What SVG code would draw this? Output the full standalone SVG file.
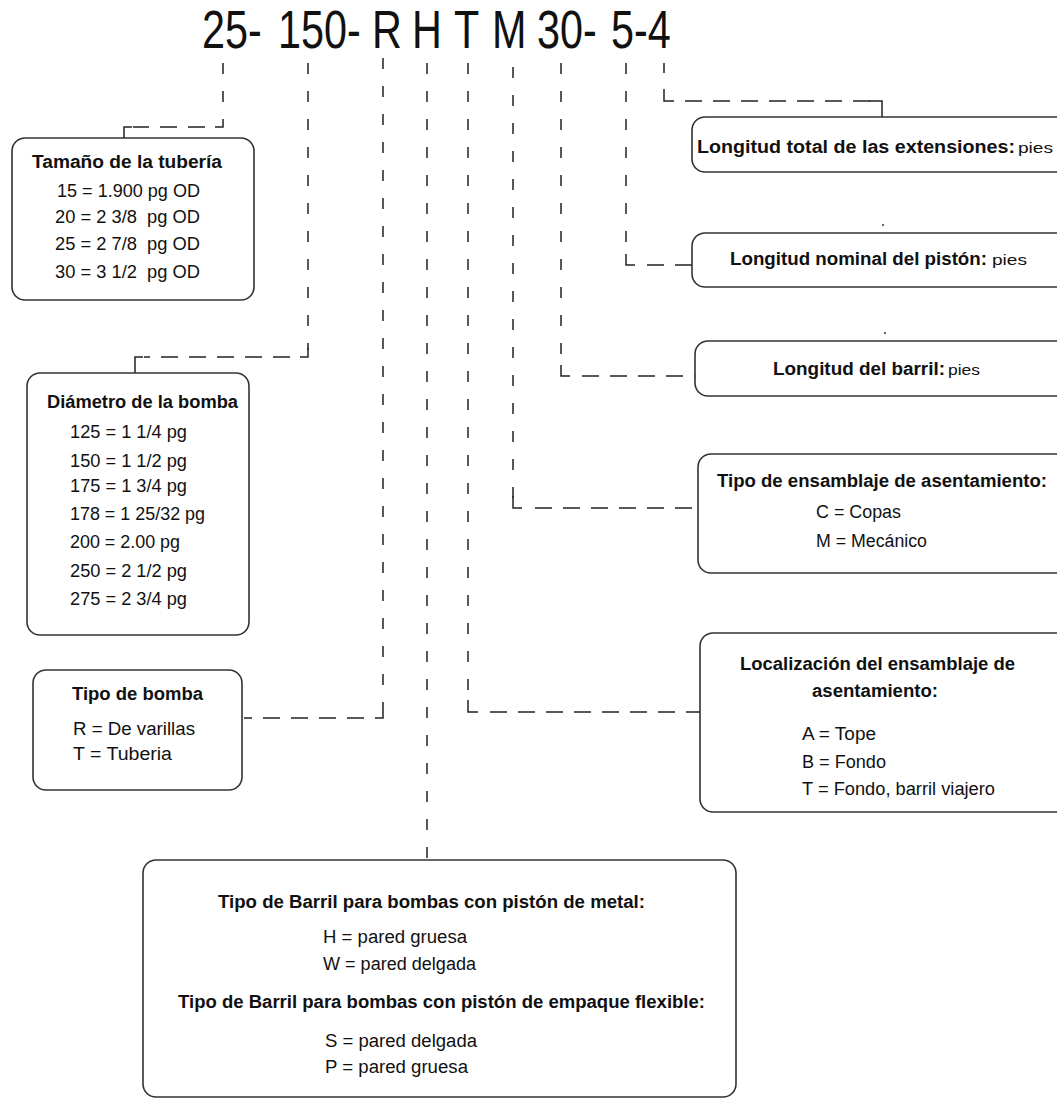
<svg xmlns="http://www.w3.org/2000/svg" width="1057" height="1099" viewBox="0 0 1057 1099">
  <style>
    text { font-family: "Liberation Sans Narrow", "Arial Narrow", "Liberation Sans", Arial, sans-serif; fill: #111; white-space: pre; }
    .code { font-size: 53px; }
    .h { font-size: 18px; font-weight: bold; }
    .t { font-size: 18px; }
    .u { font-size: 15px; }
    .box { fill: #fff; stroke: #333; stroke-width: 1.6; }
    .v { stroke: #222; stroke-width: 1.5; fill: none; stroke-dasharray: 11 17; }
    .hz { stroke: #222; stroke-width: 1.5; fill: none; stroke-dasharray: 17 11; }
    .c { stroke: #222; stroke-width: 1.5; fill: none; }
  </style>
  <rect width="1057" height="1099" fill="#fff"/>

  <!-- pump designation code, drawn horizontally condensed -->
  <g id="code" transform="scale(0.78 1)">
    <text class="code" x="259" y="48">25-</text>
    <text class="code" x="356.4" y="48">150-</text>
    <text class="code" x="476.9" y="48">R</text>
    <text class="code" x="528.2" y="48">H</text>
    <text class="code" x="582.1" y="48">T</text>
    <text class="code" x="630.8" y="48">M</text>
    <text class="code" x="688.5" y="48">30-</text>
    <text class="code" x="783.3" y="48">5-4</text>
  </g>

  <!-- dashed leaders from each code field to its box -->
  <g id="connectors">
    <g id="c-tuberia">
      <line class="v" x1="223" y1="63" x2="223" y2="120"/>
      <path class="c" d="M223,120 V127 H215"/>
      <line class="hz" x1="205" y1="127" x2="133" y2="127"/>
      <path class="c" d="M132,127 H124 V138"/>
    </g>
    <g id="c-diametro">
      <line class="v" x1="308" y1="63" x2="308" y2="350"/>
      <path class="c" d="M308,348 V357 H300"/>
      <line class="hz" x1="290" y1="357" x2="144" y2="357"/>
      <path class="c" d="M143,357 H135 V373"/>
    </g>
    <g id="c-bomba">
      <line class="v" x1="383" y1="58" x2="383" y2="708"/>
      <path class="c" d="M383,708 V718 H375"/>
      <line class="hz" x1="364" y1="718" x2="244" y2="718"/>
    </g>
    <g id="c-barril-tipo">
      <line class="v" x1="427" y1="63" x2="427" y2="860"/>
    </g>
    <g id="c-localizacion">
      <line class="v" x1="468" y1="63" x2="468" y2="702"/>
      <path class="c" d="M468,700 V712 H478"/>
      <line class="hz" x1="490" y1="712" x2="700" y2="712"/>
    </g>
    <g id="c-ensamblaje">
      <line class="v" x1="513" y1="67" x2="513" y2="498"/>
      <path class="c" d="M513,496 V508 H522"/>
      <line class="hz" x1="535" y1="508" x2="698" y2="508"/>
    </g>
    <g id="c-barril-long">
      <line class="v" x1="561" y1="63" x2="561" y2="367"/>
      <path class="c" d="M561,365 V376 H570"/>
      <line class="hz" x1="582" y1="376" x2="695" y2="376"/>
    </g>
    <g id="c-piston">
      <line class="v" x1="626" y1="63" x2="626" y2="256"/>
      <path class="c" d="M626,254 V265 H635"/>
      <line class="hz" x1="647" y1="265" x2="692" y2="265"/>
    </g>
    <g id="c-extensiones">
      <path class="c" d="M664,63 V73"/>
      <path class="c" d="M664,89 V101 H674"/>
      <line class="hz" x1="685" y1="101" x2="872" y2="101"/>
      <path class="c" d="M869,101 H882 V117"/>
    </g>
    <circle cx="883" cy="225" r="1" fill="#333"/>
    <circle cx="885" cy="333" r="1" fill="#333"/>
  </g>

  <!-- left column -->
  <g id="tamano-tuberia">
    <rect class="box" x="12" y="138" width="242" height="162" rx="13"/>
    <text class="h" x="32" y="168" textLength="190" lengthAdjust="spacingAndGlyphs">Tamaño de la tubería</text>
    <text class="t" x="57" y="197" textLength="143" lengthAdjust="spacingAndGlyphs">15 = 1.900 pg OD</text>
    <text class="t" x="55" y="223" textLength="145" lengthAdjust="spacingAndGlyphs">20 = 2 3/8  pg OD</text>
    <text class="t" x="55" y="250" textLength="145" lengthAdjust="spacingAndGlyphs">25 = 2 7/8  pg OD</text>
    <text class="t" x="55" y="278" textLength="145" lengthAdjust="spacingAndGlyphs">30 = 3 1/2  pg OD</text>
  </g>

  <g id="diametro-bomba">
    <rect class="box" x="27" y="373" width="222" height="262" rx="13"/>
    <text class="h" x="47" y="408" textLength="191" lengthAdjust="spacingAndGlyphs">Diámetro de la bomba</text>
    <text class="t" x="70" y="438" textLength="117" lengthAdjust="spacingAndGlyphs">125 = 1 1/4 pg</text>
    <text class="t" x="70" y="467" textLength="117" lengthAdjust="spacingAndGlyphs">150 = 1 1/2 pg</text>
    <text class="t" x="70" y="492" textLength="117" lengthAdjust="spacingAndGlyphs">175 = 1 3/4 pg</text>
    <text class="t" x="70" y="520" textLength="135" lengthAdjust="spacingAndGlyphs">178 = 1 25/32 pg</text>
    <text class="t" x="70" y="548" textLength="110" lengthAdjust="spacingAndGlyphs">200 = 2.00 pg</text>
    <text class="t" x="70" y="577" textLength="117" lengthAdjust="spacingAndGlyphs">250 = 2 1/2 pg</text>
    <text class="t" x="70" y="605" textLength="117" lengthAdjust="spacingAndGlyphs">275 = 2 3/4 pg</text>
  </g>

  <g id="tipo-bomba">
    <rect class="box" x="33" y="670" width="209" height="120" rx="13"/>
    <text class="h" x="72" y="700" textLength="131" lengthAdjust="spacingAndGlyphs">Tipo de bomba</text>
    <text class="t" x="73" y="735" textLength="122" lengthAdjust="spacingAndGlyphs">R = De varillas</text>
    <text class="t" x="73" y="760" textLength="99" lengthAdjust="spacingAndGlyphs">T = Tuberia</text>
  </g>

  <!-- right column -->
  <g id="longitud-extensiones">
    <rect class="box" x="692" y="117" width="380" height="55" rx="13"/>
    <text class="h" x="697" y="153" textLength="318" lengthAdjust="spacingAndGlyphs">Longitud total de las extensiones:</text>
    <text class="u" x="1018" y="153" textLength="35" lengthAdjust="spacingAndGlyphs">pies</text>
  </g>

  <g id="longitud-piston">
    <rect class="box" x="692" y="233" width="380" height="54" rx="13"/>
    <text class="h" x="730" y="265" textLength="257" lengthAdjust="spacingAndGlyphs">Longitud nominal del pistón:</text>
    <text class="u" x="992" y="265" textLength="35" lengthAdjust="spacingAndGlyphs">pies</text>
  </g>

  <g id="longitud-barril">
    <rect class="box" x="695" y="341" width="377" height="55" rx="13"/>
    <text class="h" x="773" y="375" textLength="172" lengthAdjust="spacingAndGlyphs">Longitud del barril:</text>
    <text class="u" x="948" y="375" textLength="32" lengthAdjust="spacingAndGlyphs">pies</text>
  </g>

  <g id="tipo-ensamblaje">
    <rect class="box" x="698" y="454" width="374" height="119" rx="13"/>
    <text class="h" x="717" y="487" textLength="330" lengthAdjust="spacingAndGlyphs">Tipo de ensamblaje de asentamiento:</text>
    <text class="t" x="816" y="518" textLength="85" lengthAdjust="spacingAndGlyphs">C = Copas</text>
    <text class="t" x="816" y="547" textLength="111" lengthAdjust="spacingAndGlyphs">M = Mecánico</text>
  </g>

  <g id="localizacion-ensamblaje">
    <rect class="box" x="700" y="633" width="372" height="179" rx="13"/>
    <text class="h" x="740" y="670" textLength="275" lengthAdjust="spacingAndGlyphs">Localización del ensamblaje de</text>
    <text class="h" x="812" y="697" textLength="126" lengthAdjust="spacingAndGlyphs">asentamiento:</text>
    <text class="t" x="802" y="740" textLength="74" lengthAdjust="spacingAndGlyphs">A = Tope</text>
    <text class="t" x="802" y="768" textLength="84" lengthAdjust="spacingAndGlyphs">B = Fondo</text>
    <text class="t" x="802" y="795" textLength="193" lengthAdjust="spacingAndGlyphs">T = Fondo, barril viajero</text>
  </g>

  <!-- bottom -->
  <g id="tipo-barril">
    <rect class="box" x="143" y="860" width="593" height="237" rx="13"/>
    <text class="h" x="218" y="908" textLength="427" lengthAdjust="spacingAndGlyphs">Tipo de Barril para bombas con pistón de metal:</text>
    <text class="t" x="323" y="943" textLength="144" lengthAdjust="spacingAndGlyphs">H = pared gruesa</text>
    <text class="t" x="323" y="970" textLength="153" lengthAdjust="spacingAndGlyphs">W = pared delgada</text>
    <text class="h" x="178" y="1008" textLength="527" lengthAdjust="spacingAndGlyphs">Tipo de Barril para bombas con pistón de empaque flexible:</text>
    <text class="t" x="325" y="1047" textLength="152" lengthAdjust="spacingAndGlyphs">S = pared delgada</text>
    <text class="t" x="325" y="1073" textLength="143" lengthAdjust="spacingAndGlyphs">P = pared gruesa</text>
  </g>
</svg>
